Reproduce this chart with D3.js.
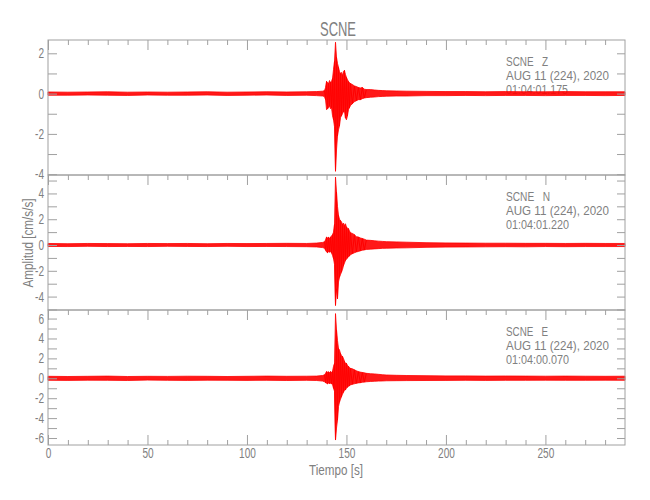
<!DOCTYPE html>
<html>
<head>
<meta charset="utf-8">
<script src="https://cdn.jsdelivr.net/npm/d3@7"></script>
<style>
  html, body { margin: 0; padding: 0; background: #fff; }
  svg { display: block; }
  text { font-family: "Liberation Sans", Arial, sans-serif; fill: #808080; }
</style>
</head>
<body>
<svg id="chart" width="650" height="500"></svg>
<script>
// ---------------- data ----------------
const title = "SCNE";
const xLabel = "Tiempo [s]";
const yLabel = "Amplitud [cm/s/s]";
const stationLabels = ["SCNE   Z", "SCNE   N", "SCNE   E"];
const dateLabels = ["AUG 11 (224), 2020", "AUG 11 (224), 2020", "AUG 11 (224), 2020"];
const startTimes = ["01:04:01.175", "01:04:01.220", "01:04:00.070"];
const xMajorTicks = [0, 50, 100, 150, 200, 250];
const xMinorTicks = [10, 20, 30, 40, 60, 70, 80, 90, 110, 120, 130, 140, 160, 170, 180, 190, 210, 220, 230, 240, 260, 270, 280];
const xDomain = [0, 290];
const yDomains = [[-4.04, 2.66], [-5.04, 5.43], [-6.7, 6.86]];
const yTicks = [
  [-4, -3, -2, -1, 0, 1, 2],
  [-5, -4, -3, -2, -1, 0, 1, 2, 3, 4, 5],
  [-6, -5, -4, -3, -2, -1, 0, 1, 2, 3, 4, 5, 6]
];

// time grid (s) of the read envelope samples
const times = [0,10,20,30,40,50,60,70,80,90,100,110,120,130,
  135,138,139,
  139.5,140,140.5,141,141.5,142,142.5,143,143.5,144,144.5,145,145.5,146,146.5,147,147.5,148,148.5,149,149.5,150,150.5,151,151.5,152,
  153,154,155,156,157,158,159,160,
  162,164,166,168,170,
  175,180,
  190,200,210,220,230,240,250,260,270,280,290];

// Z component: upper / lower envelope (cm/s/s)
const zHi = [0.08,0.07,0.08,0.09,0.07,0.08,0.07,0.08,0.09,0.07,0.08,0.09,0.08,0.09,
  0.1,0.12,0.15,
  0.3,0.6,0.55,0.5,0.65,0.55,0.6,0.75,1.2,1.6,2.55,1.8,1.5,1.3,1.1,1.0,1.05,0.9,1.1,1.15,0.95,0.8,0.7,0.6,0.55,0.5,
  0.45,0.38,0.35,0.3,0.28,0.3,0.22,0.2,
  0.2,0.18,0.16,0.15,0.14,
  0.13,0.12,
  0.11,0.1,0.1,0.09,0.1,0.09,0.09,0.1,0.09,0.09,0.09];
const zLo = [-0.08,-0.08,-0.07,-0.08,-0.09,-0.07,-0.08,-0.08,-0.07,-0.09,-0.08,-0.07,-0.09,-0.08,
  -0.1,-0.12,-0.15,
  -0.3,-0.8,-0.75,-0.7,-0.6,-0.75,-0.7,-1.1,-1.3,-1.65,-3.85,-2.8,-2.1,-1.8,-1.6,-1.2,-1.1,-1.0,-0.9,-0.85,-1.2,-1.3,-1.1,-0.8,-0.7,-0.6,
  -0.5,-0.4,-0.35,-0.3,-0.3,-0.25,-0.22,-0.2,
  -0.18,-0.17,-0.15,-0.14,-0.13,
  -0.12,-0.12,
  -0.1,-0.1,-0.09,-0.1,-0.09,-0.09,-0.1,-0.09,-0.09,-0.1,-0.09];

// N component
const nHi = [0.12,0.1,0.12,0.11,0.1,0.12,0.11,0.12,0.1,0.12,0.11,0.12,0.13,0.12,
  0.15,0.2,0.25,
  0.4,0.62,0.55,0.6,0.5,0.62,0.7,0.8,1.0,1.6,5.27,4.1,3.0,2.3,2.0,1.9,1.8,1.6,1.7,1.5,1.65,1.4,1.3,1.27,1.1,0.95,
  0.9,0.8,0.65,0.62,0.55,0.5,0.45,0.38,
  0.36,0.33,0.3,0.28,0.26,
  0.24,0.22,
  0.18,0.16,0.15,0.14,0.14,0.13,0.13,0.12,0.13,0.12,0.12];
const nLo = [-0.11,-0.12,-0.1,-0.12,-0.11,-0.12,-0.1,-0.11,-0.12,-0.1,-0.12,-0.11,-0.12,-0.13,
  -0.15,-0.2,-0.25,
  -0.4,-0.54,-0.6,-0.5,-0.55,-0.5,-0.62,-0.8,-1.06,-1.5,-4.68,-3.4,-4.16,-2.87,-2.5,-2.3,-2.1,-1.9,-1.6,-1.4,-1.2,-1.1,-1.0,-0.93,-0.85,-0.75,
  -0.67,-0.6,-0.54,-0.5,-0.45,-0.4,-0.38,-0.34,
  -0.32,-0.3,-0.28,-0.26,-0.25,
  -0.23,-0.22,
  -0.18,-0.16,-0.15,-0.14,-0.13,-0.14,-0.12,-0.13,-0.12,-0.12,-0.12];

// E component
const eHi = [0.2,0.18,0.2,0.22,0.18,0.2,0.19,0.21,0.2,0.18,0.2,0.22,0.2,0.21,
  0.22,0.28,0.35,
  0.5,0.67,0.6,0.65,0.55,0.67,0.6,0.7,1.2,1.5,6.5,4.87,3.8,3.0,2.85,2.5,2.3,2.2,2.0,1.7,1.5,1.5,1.3,1.2,1.1,1.0,
  0.95,0.85,0.75,0.67,0.62,0.58,0.55,0.5,
  0.46,0.44,0.4,0.36,0.33,
  0.3,0.28,
  0.26,0.24,0.24,0.22,0.23,0.22,0.21,0.22,0.21,0.2,0.21];
const eLo = [-0.2,-0.21,-0.19,-0.2,-0.22,-0.18,-0.2,-0.21,-0.19,-0.2,-0.21,-0.2,-0.22,-0.2,
  -0.22,-0.28,-0.35,
  -0.45,-0.5,-0.55,-0.48,-0.52,-0.5,-0.55,-0.6,-1.0,-1.3,-6.2,-5.0,-4.2,-2.85,-2.4,-2.1,-1.85,-1.6,-1.4,-1.2,-1.17,-1.0,-0.9,-0.8,-0.75,-0.67,
  -0.6,-0.55,-0.5,-0.46,-0.44,-0.4,-0.38,-0.35,
  -0.32,-0.3,-0.28,-0.27,-0.25,
  -0.24,-0.23,
  -0.22,-0.21,-0.2,-0.21,-0.2,-0.2,-0.19,-0.2,-0.2,-0.19,-0.2];

const seriesHi = [zHi, nHi, eHi];
const seriesLo = [zLo, nLo, eLo];

// ---------------- layout ----------------
const svg = d3.select("#chart");
const plotLeft = 48, plotRight = 625;
const panelTop = [40, 175, 310];
const panelH = 135;
const axisColor = "#a0a0a0";
const textColor = "#808080";
const traceColor = "#ff0000";
const squeeze = 0.72;
const coda = [139, 160]; // window where the oscillation texture is drawn

const x = d3.scaleLinear().domain(xDomain).range([plotLeft, plotRight]);

svg.append("text")
  .attr("x", 338).attr("y", 36)
  .attr("text-anchor", "middle")
  .attr("data-w", 36)
  .style("font-size", "21px")
  .text(title);

const annWidths = [[42, 103, 62], [44, 103, 63], [42, 103, 63]];

seriesHi.forEach((hi, p) => {
  const top = panelTop[p];
  const y = d3.scaleLinear().domain(yDomains[p]).range([top + panelH, top]);
  const g = svg.append("g");
  const lo = seriesLo[p];

  // annotation (drawn under the trace)
  const ann = g.append("g").style("font-size", "13px");
  [stationLabels[p], dateLabels[p], startTimes[p]].forEach((s, i) => {
    ann.append("text")
      .attr("x", 506).attr("y", top + 26 + i * 14)
      .attr("data-w", annWidths[p][i])
      .style("white-space", "pre")
      .text(s);
  });

  // trace: filled envelope + zig-zag through the read samples of the event
  const pts = times.map((t, i) => ({ t, hi: hi[i], lo: lo[i], i }));
  g.append("path")
    .datum(pts)
    .attr("fill", traceColor)
    .attr("fill-opacity", 0.9)
    .attr("stroke", traceColor)
    .attr("stroke-width", 0.8)
    .attr("d", d3.area().x(d => x(d.t)).y0(d => y(d.lo)).y1(d => y(d.hi)));
  g.append("path")
    .datum(pts.filter(d => d.t >= coda[0] && d.t <= coda[1]))
    .attr("fill", "none")
    .attr("stroke", traceColor)
    .attr("stroke-width", 1)
    .attr("d", d3.line().x(d => x(d.t)).y(d => y(d.i % 2 ? d.lo : d.hi)));

  // frame
  g.append("rect")
    .attr("x", plotLeft).attr("y", top)
    .attr("width", plotRight - plotLeft).attr("height", panelH)
    .attr("fill", "none").attr("stroke", axisColor).attr("stroke-width", 1);

  const yl = g.append("g").attr("transform", `translate(${plotLeft},0)`)
    .call(d3.axisLeft(y).tickValues(yTicks[p]).tickSize(-9).tickSizeOuter(0).tickPadding(4)
      .tickFormat(d => (d % 2 === 0 ? String(d) : "")));
  const yr = g.append("g").attr("transform", `translate(${plotRight},0)`)
    .call(d3.axisRight(y).tickValues(yTicks[p]).tickSize(-8).tickSizeOuter(0).tickFormat(""));
  const xt1 = g.append("g").attr("transform", `translate(0,${top})`)
    .call(d3.axisTop(x).tickValues(xMajorTicks).tickSize(-10).tickSizeOuter(0).tickFormat(""));
  const xt2 = g.append("g").attr("transform", `translate(0,${top})`)
    .call(d3.axisTop(x).tickValues(xMinorTicks).tickSize(-5).tickSizeOuter(0).tickFormat(""));
  const axes = [yl, yr, xt1, xt2];

  if (p === 2) {
    const xb1 = g.append("g").attr("transform", `translate(0,${top + panelH})`)
      .call(d3.axisBottom(x).tickValues(xMajorTicks).tickSize(-10).tickSizeOuter(0).tickPadding(3)
        .tickFormat(d => String(d)));
    const xb2 = g.append("g").attr("transform", `translate(0,${top + panelH})`)
      .call(d3.axisBottom(x).tickValues(xMinorTicks).tickSize(-5).tickSizeOuter(0).tickFormat(""));
    axes.push(xb1, xb2);
  }
  axes.forEach(a => {
    a.select(".domain").remove();
    a.selectAll(".tick line").attr("stroke", axisColor);
    a.selectAll(".tick text").attr("fill", textColor)
      .style("font-size", "14px")
      .style("font-family", "\"Liberation Sans\", Arial, sans-serif");
  });
});

// axis titles
svg.append("text")
  .attr("x", 336).attr("y", 475)
  .attr("text-anchor", "middle")
  .attr("data-w", 54)
  .style("font-size", "14px")
  .style("white-space", "pre")
  .text(xLabel);

svg.append("text")
  .attr("transform", "translate(33,243) rotate(-90)")
  .attr("text-anchor", "middle")
  .attr("data-w", 89)
  .style("font-size", "14px")
  .style("white-space", "pre")
  .text(yLabel);

// narrow (Hershey-like) lettering: compress every label horizontally
svg.selectAll("text").each(function () {
  const len = this.getComputedTextLength();
  if (!len) return;
  const w = this.getAttribute("data-w");
  d3.select(this)
    .attr("textLength", w ? +w : len * squeeze)
    .attr("lengthAdjust", "spacingAndGlyphs");
});
</script>
</body>
</html>
